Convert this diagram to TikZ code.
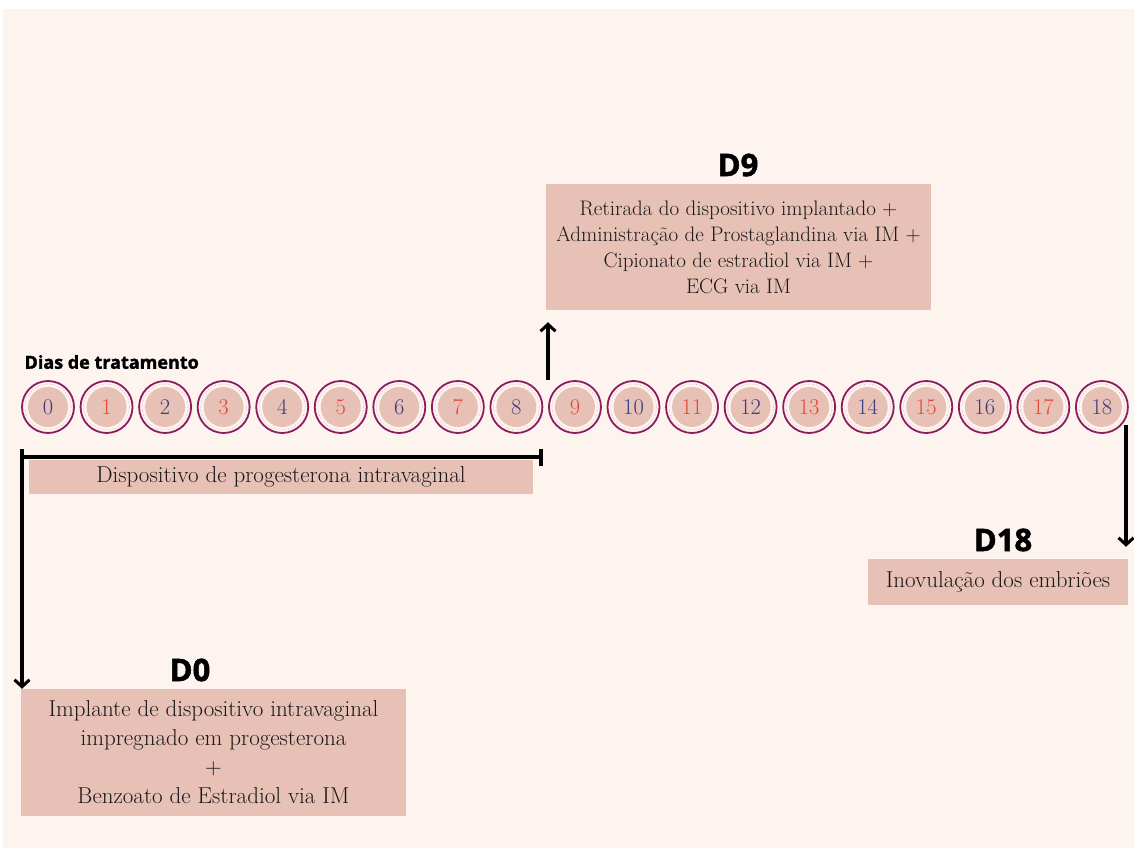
\documentclass[tikz,border=0pt]{standalone}
\usepackage{fontspec}
\newfontfamily\headfont{Open Sans}[BoldFeatures={FakeBold=1.6}]
\usetikzlibrary{arrows.meta}
\definecolor{bg}{HTML}{FDF4EF}
\definecolor{boxc}{HTML}{E8C1B6}
\definecolor{ring}{HTML}{8C1D5C}
\definecolor{navyn}{HTML}{3B3C7E}
\definecolor{redn}{HTML}{E2483A}
\tikzset{
  day/.style={circle, draw=ring, line width=1.8pt, fill=bg, minimum size=52pt, inner sep=0pt,
    font=\fontsize{22.5}{22.5}\selectfont,
    path picture={\fill[boxc] (path picture bounding box.center) circle (20pt);
      \draw[ring!45, dotted, line width=0.6pt] (path picture bounding box.center) circle (23pt);}},
  infobox/.style={fill=boxc, inner sep=0pt, align=center, text=black!90,
    font=\fontsize{23}{29}\selectfont},
  heading/.style={font=\headfont\bfseries\fontsize{31}{31}\selectfont, text=black},
  arr/.style={line width=3.2pt, -{Straight Barb[length=7pt, width=15pt, line width=3pt]}},
  bar/.style={line width=3.2pt},
}
\begin{document}
\begin{tikzpicture}[x=1pt, y=-1pt]
\useasboundingbox (0,0) rectangle (1134,850);
\fill[bg] (3,9) rectangle (1134,848);

\node[anchor=west, font=\headfont\bfseries\fontsize{18}{18}\selectfont] (title) at (21,362) {Dias de tratamento};

\foreach \i in {0,...,18} {
  \pgfmathsetmacro\xx{48+\i*58.55}
  \def\col{navyn}\ifodd\i\def\col{redn}\fi
  \node[day, text=\col] (c\i) at (\xx,407) {\i};
}

% D9
\node[heading] (d9h) at (738,165) {D9};
\node[infobox, minimum width=385pt, minimum height=126pt, font=\fontsize{21}{26}\selectfont] (d9box) at (738.5,247)
  {Retirada do dispositivo implantado +\\Administração de Prostaglandina via IM +\\Cipionato de estradiol via IM +\\ECG via IM};

% progesterone
\node[infobox, minimum width=504pt, minimum height=34pt] (pbox) at (281,477) {Dispositivo de progesterona intravaginal};

% D18
\node[heading] (d18h) at (1003,540) {D18};
\node[infobox, minimum width=260pt, minimum height=46pt] (d18box) at (998,582) {Inovulação dos embriões};

% D0
\node[heading] (d0h) at (190,670) {D0};
\node[infobox, minimum width=385pt, minimum height=127pt] (d0box) at (213.5,752.5)
  {Implante de dispositivo intravaginal\\impregnado em progesterona\\+\\Benzoato de Estradiol via IM};

% connectors
\coordinate (bl) at (22,449);
\coordinate (bm) at (22,457);
\coordinate (br) at (541,457);
\coordinate (brt) at (541,449);
\coordinate (brb) at (541,466);
\draw[arr] (bl) -- (bl |- d0box.north);
\draw[bar] (bm) -- (br);
\draw[bar] (brt) -- (brb);

\coordinate (up0) at (548,380);
\draw[arr, shorten >=12pt] (up0) -- (up0 |- d9box.south);

\coordinate (dn0) at (1126,425);
\draw[arr, shorten >=12pt] (dn0) -- (dn0 |- d18box.north);
\end{tikzpicture}
\end{document}
